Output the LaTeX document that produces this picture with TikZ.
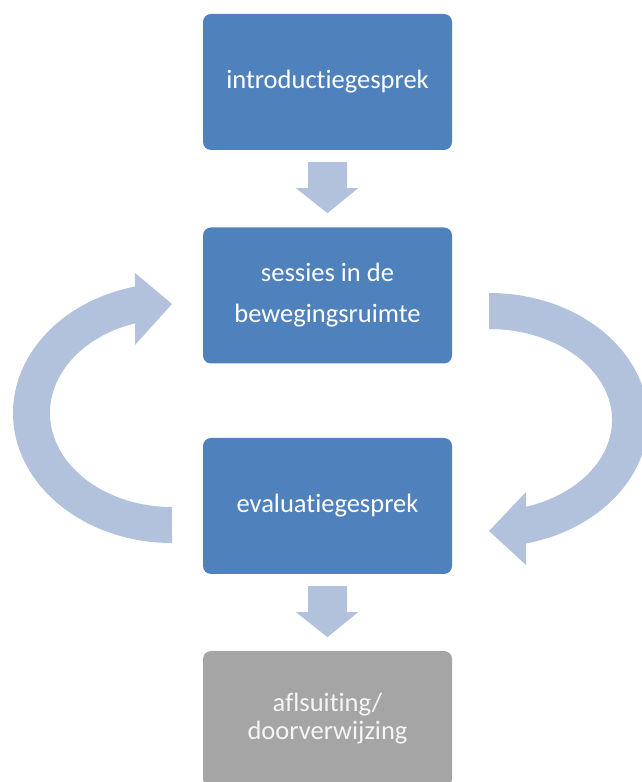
\documentclass[tikz,border=0pt]{standalone}
\usepackage{fontspec}
\setmainfont{Carlito}[Ligatures={NoCommon}]
\usetikzlibrary{calc}
\definecolor{boxblue}{HTML}{4F81BD}
\definecolor{arrowblue}{HTML}{B2C2DD}
\definecolor{boxgray}{HTML}{A5A5A5}
\newcommand\mybtext[1]{\raisebox{-3pt}{\parbox{240pt}{\centering #1}}}
\begin{document}
\begin{tikzpicture}[x=1pt,y=1pt,
  stepbox/.style={rectangle, rounded corners=8pt, minimum width=249pt, minimum height=136pt,
    inner sep=0pt, text=white, font=\fontsize{26.5}{26.5}\selectfont},
  bluebox/.style={stepbox, fill=boxblue},
  graybox/.style={stepbox, fill=boxgray, text=white!92!gray},
  flow/.style={fill=arrowblue, draw=none}]
\useasboundingbox (0,0) rectangle (641,782);
\node[bluebox] (b1) at (327.5,700) {\mybtext{introductiegesprek}};
\node[bluebox, font=\fontsize{26.5}{41}\selectfont] (b2) at (327.5,486.5) {\mybtext{sessies in de\\bewegingsruimte}};
\node[bluebox] (b3) at (327.5,276) {\mybtext{evaluatiegesprek}};
\node[graybox, font=\fontsize{26.5}{28}\selectfont] (b4) at (327.5,63) {\mybtext{aflsuiting/\\doorverwijzing}};
% down arrows
\fill[flow] ($(b1.south)+(-19.5,-12)$) -- ($(b1.south)+(19.5,-12)$) -- ($(b1.south)+(19.5,-38)$)
  -- ($(b1.south)+(30.5,-38)$) -- ($(b1.south)+(0,-63)$) -- ($(b1.south)+(-31.5,-38)$)
  -- ($(b1.south)+(-19.5,-38)$) -- cycle;
\fill[flow] ($(b3.south)+(-19.5,-12)$) -- ($(b3.south)+(19.5,-12)$) -- ($(b3.south)+(19.5,-38)$)
  -- ($(b3.south)+(30.5,-38)$) -- ($(b3.south)+(0,-63)$) -- ($(b3.south)+(-31.5,-38)$)
  -- ($(b3.south)+(-19.5,-38)$) -- cycle;
% left curved arrow (evaluatie -> sessies)
\fill[flow] (172,239) arc[start angle=270, end angle=103.5, x radius=159, y radius=130]
  -- (135,509) -- (172,478) -- (135,437) -- (135.1,458.6)
  arc[start angle=107.6, end angle=270, x radius=122, y radius=94] -- cycle;
% right curved arrow (sessies -> evaluatie)
\fill[flow] (489,489) arc[start angle=90, end angle=-76.5, x radius=159, y radius=127]
  -- (526,217) -- (489,251) -- (526,290) -- (526,275.2)
  arc[start angle=-72.5, end angle=90, x radius=123, y radius=91] -- cycle;
\end{tikzpicture}
\end{document}
